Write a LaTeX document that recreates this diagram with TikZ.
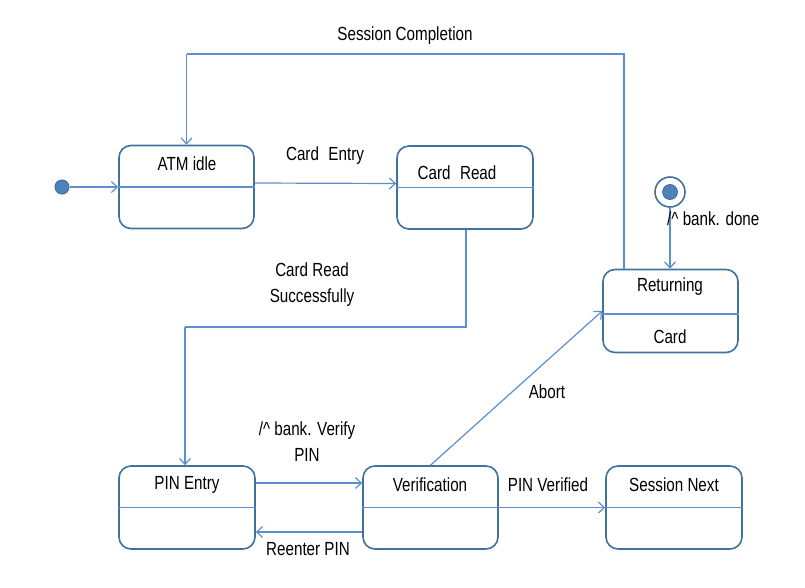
\documentclass[tikz,border=0pt]{standalone}
\usepackage{fontspec}
\setmainfont{Liberation Sans}[FakeStretch=0.8]
\usetikzlibrary{arrows.meta}
\definecolor{boxc}{HTML}{41719C}
\definecolor{linec}{HTML}{5B8FD0}
\definecolor{dotc}{HTML}{4F81BD}
\tikzset{
  statebox/.style={draw=boxc, line width=1.6pt, rounded corners=12pt, minimum width=135pt, minimum height=83pt, inner sep=0pt},
  divider/.style={draw=linec, line width=1.2pt},
  conn/.style={draw=linec, line width=1.2pt, -{Straight Barb[length=6pt,width=11pt,line width=1.2pt]}},
  wire/.style={draw=linec, line width=1.2pt},
  lbl/.style={font=\fontsize{19}{22}\selectfont, inner sep=0pt, align=center}
}
\begin{document}
\begin{tikzpicture}[x=1pt,y=-1pt]
\useasboundingbox (0,0) rectangle (805,587);
% states
\node[statebox] (atm) at (186.5,187) {};
\node[statebox, minimum width=136pt] (cr) at (465,187.5) {};
\node[statebox] (ret) at (670.5,311) {};
\node[statebox, minimum width=136pt] (pin) at (187,507.5) {};
\node[statebox] (ver) at (430.5,507.5) {};
\node[statebox, minimum width=136pt] (sn) at (674,507.5) {};
% dividers
\draw[divider] (atm.west) -- (atm.east);
\draw[divider] (cr.west) -- (cr.east);
\draw[divider] ([yshift=-3pt]ret.west) -- ([yshift=-3pt]ret.east);
\draw[divider] (pin.west) -- (pin.east);
\draw[divider] (ver.west) -- (ver.east);
\draw[divider] (sn.west) -- (sn.east);
% state names
\node[lbl] (tatm) at (187,164) {ATM idle};
\node[lbl] (tcr) at (457,173) {Card\enspace Read};
\node[lbl] (tret) at (670,287) {Returning};
\node[lbl] (tcard) at (670,337) {Card};
\node[lbl] (tpin) at (187,485) {PIN Entry};
\node[lbl] (tver) at (430,485) {Verification};
\node[lbl] (tsn) at (674,485) {Session Next};
% pseudo states
\node[circle, fill=dotc, draw=boxc, line width=1pt, minimum size=14pt, inner sep=0pt] (init) at (62,187) {};
\node[circle, fill=white, draw=boxc, line width=1.6pt, minimum size=30pt, inner sep=0pt] (fin) at (670,192) {};
\node[circle, fill=dotc, draw=boxc, line width=0.8pt, minimum size=15pt, inner sep=0pt] (fininner) at (670,192) {};
% connectors
\draw[conn] (init) -- (atm.west);
\draw[conn] ([yshift=4pt]atm.east) -- ([yshift=4pt]cr.west);
\coordinate (c1) at (466,327);
\coordinate (c2) at (185,327);
\draw[wire] (cr.south -| c1) -- (c1) -- (c2);
\draw[conn] (c2) -- (c2 |- pin.north);
\coordinate (s1) at (624,54);
\coordinate (s2) at (186.5,54);
\draw[wire] (ret.north -| s1) -- (s1) -- (s2);
\draw[conn] (s2) -- (atm.north);
\draw[conn] (fin.south) -- (fin.south |- ret.north);
\draw[conn] ([yshift=24.5pt]pin.east) -- ([yshift=24.5pt]ver.west);
\draw[conn] ([yshift=-24.5pt]ver.west) -- ([yshift=-24.5pt]pin.east);
\draw[conn] (ver.east) -- (sn.west);
\draw[conn] (ver.north) -- (ret.west);
% transition labels
\node[lbl] (lsc) at (405,36) {Session Completion};
\node[lbl] (lce) at (325,156) {Card\enspace Entry};
\node[lbl] (lcrs) at (312,285) {Card Read\\[4pt]Successfully};
\node[lbl, anchor=west] (lbd) at (667,219) {/\textasciicircum{} bank. done};
\node[lbl] (lab) at (547,392) {Abort};
\node[lbl] (lbv) at (307,442) {/\textasciicircum{} bank. Verify\\[4pt]PIN};
\node[lbl] (lpv) at (548,485) {PIN Verified};
\node[lbl] (lrp) at (308,549) {Reenter PIN};
\end{tikzpicture}
\end{document}
